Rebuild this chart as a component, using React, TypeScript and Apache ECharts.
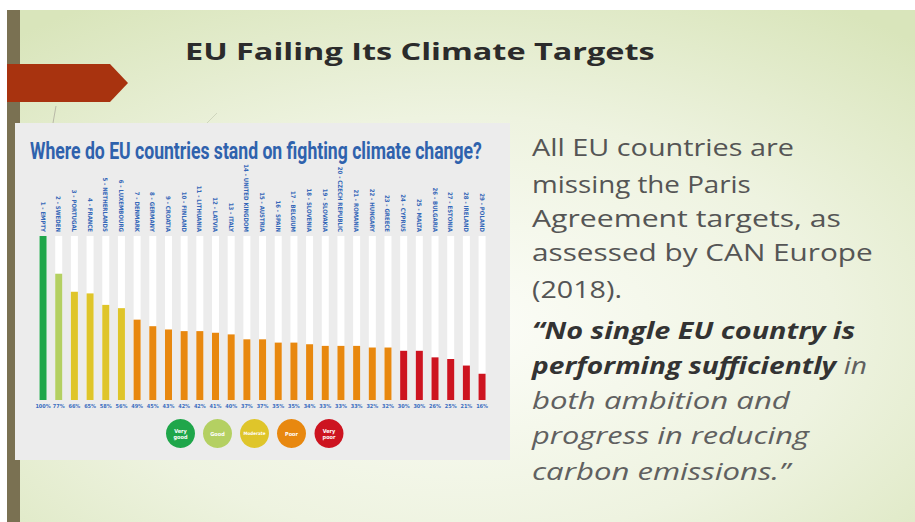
import React, { useEffect, useRef } from "react";
import * as echarts from "echarts";

const countries = [
  "1 - EMPTY", "2 - SWEDEN", "3 - PORTUGAL", "4 - FRANCE", "5 - NETHERLANDS",
  "6 - LUXEMBOURG", "7 - DENMARK", "8 - GERMANY", "9 - CROATIA", "10 - FINLAND",
  "11 - LITHUANIA", "12 - LATVIA", "13 - ITALY", "14 - UNITED KINGDOM", "15 - AUSTRIA",
  "16 - SPAIN", "17 - BELGIUM", "18 - SLOVENIA", "19 - SLOVAKIA", "20 - CZECH REPUBLIC",
  "21 - ROMANIA", "22 - HUNGARY", "23 - GREECE", "24 - CYPRUS", "25 - MALTA",
  "26 - BULGARIA", "27 - ESTONIA", "28 - IRELAND", "29 - POLAND",
];
const scores = [
  100, 77, 66, 65, 58, 56, 49, 45, 43, 42, 42, 41, 40, 37, 37,
  35, 35, 34, 33, 33, 33, 32, 32, 30, 30, 26, 25, 21, 16,
];
const ratingIndex = [
  0, 1, 2, 2, 2, 2, 3, 3, 3, 3, 3, 3, 3, 3, 3,
  3, 3, 3, 3, 3, 3, 3, 3, 4, 4, 4, 4, 4, 4,
];
const ratingLabels = ["Very\ngood", "Good", "Moderate", "Poor", "Very\npoor"];
const ratingColors = ["#1fa64a", "#b4d062", "#dfc52a", "#e8880f", "#cd1420"];

const chartTitle = "Where do EU countries stand on fighting climate change?";
const slideTitle = "EU Failing Its Climate Targets";
const bodyLines = [
  "All EU countries are",
  "missing the Paris",
  "Agreement targets, as",
  "assessed by CAN Europe",
  "(2018).",
];
const quoteBold1 = "\u201CNo single EU country is";
const quoteBold2 = "performing sufficiently";
const quoteTail2 = " in";
const quoteLines = ["both ambition and", "progress in reducing", "carbon emissions.\u201D"];

function measure(text: string, font: string): number {
  const c = document.createElement("canvas").getContext("2d");
  if (!c) return text.length * 10;
  c.font = font;
  return c.measureText(text).width;
}

const BODY_FONT = '"Open Sans", "DejaVu Sans", sans-serif';

export default function App() {
  const ref = useRef<HTMLDivElement>(null);
  useEffect(() => {
    if (!ref.current) return;
    const chart = echarts.init(ref.current, null, { renderer: "svg" });

    const fitText = (
      text: string, x: number, y: number, targetW: number, size: number,
      family: string, weight: string, style: string, color: string, z = 5
    ) => {
      const w = measure(text, `${style} ${weight} ${size}px ${family}`);
      const s = targetW / w;
      return {
        type: "text", x, y, scaleX: s, z,
        style: {
          text, fill: color, fontSize: size, fontFamily: family, fontWeight: weight,
          fontStyle: style, align: "left", verticalAlign: "middle",
        },
      };
    };

    const bodyTargets = [262, 219, 309, 341, 90];
    const bodyY = [147, 183.5, 218, 252, 288.5];
    const graphics: any[] = [];

    // slide background
    graphics.push({
      type: "rect", z: -10, shape: { x: 7, y: 10, width: 908, height: 512 },
      style: {
        fill: new echarts.graphic.RadialGradient(0.5, 0.62, 0.75, [
          { offset: 0, color: "#fcfdf8" },
          { offset: 0.55, color: "#eef3e0" },
          { offset: 1, color: "#d9e5bb" },
        ]),
      },
    });
    graphics.push({
      type: "rect", z: -9, shape: { x: 7, y: 10, width: 13, height: 512 },
      style: { fill: "#7a7152" },
    });
    graphics.push({
      type: "polygon", z: -8,
      shape: { points: [[7, 64], [110, 64], [128, 83], [110, 102], [7, 102]] },
      style: { fill: "#a8330f" },
    });
    graphics.push({
      type: "line", z: -8, shape: { x1: 56, y1: 106, x2: 53, y2: 123 },
      style: { stroke: "#b9b9a8", lineWidth: 1 },
    });
    graphics.push({
      type: "line", z: -8, shape: { x1: 217, y1: 113, x2: 207, y2: 123 },
      style: { stroke: "#cfd6bd", lineWidth: 1 },
    });
    // chart panel
    graphics.push({
      type: "rect", z: -7, shape: { x: 15, y: 123, width: 495, height: 337 },
      style: { fill: "#ececec" },
    });

    // titles
    graphics.push(fitText(slideTitle, 185, 50.5, 470, 24, BODY_FONT, "bold", "normal", "#2b2b2b"));
    graphics.push(fitText(chartTitle, 30, 151, 452, 23, "Roboto, sans-serif", "bold", "normal", "#2f62ad"));

    // body text
    bodyLines.forEach((t, i) => {
      graphics.push(fitText(t, 532, bodyY[i], bodyTargets[i], 24, BODY_FONT, "normal", "normal", "#555555"));
    });
    graphics.push(fitText(quoteBold1, 532, 330, 323, 24, BODY_FONT, "bold", "italic", "#333333"));
    {
      const f1 = `italic bold 24px ${BODY_FONT}`;
      const f2 = `italic normal 24px ${BODY_FONT}`;
      const w1 = measure(quoteBold2, f1);
      const w2 = measure(quoteTail2, f2);
      const s = 335 / (w1 + w2);
      graphics.push({
        type: "text", x: 532, y: 365, scaleX: s, z: 5,
        style: { text: quoteBold2, fill: "#333333", fontSize: 24, fontFamily: BODY_FONT, fontWeight: "bold", fontStyle: "italic", verticalAlign: "middle" },
      });
      graphics.push({
        type: "text", x: 532 + w1 * s, y: 365, scaleX: s, z: 5,
        style: { text: quoteTail2, fill: "#606060", fontSize: 24, fontFamily: BODY_FONT, fontWeight: "normal", fontStyle: "italic", verticalAlign: "middle" },
      });
    }
    const quoteTargets = [258, 277, 258];
    const quoteY = [400, 435, 470];
    quoteLines.forEach((t, i) => {
      graphics.push(fitText(t, 532, quoteY[i], quoteTargets[i], 24, BODY_FONT, "normal", "italic", "#606060"));
    });

    // rating legend
    const legendX = [180.5, 217.5, 254.5, 291.5, 329];
    ratingLabels.forEach((lab, i) => {
      graphics.push({
        type: "circle", z: 3, shape: { cx: legendX[i], cy: 433.5, r: 14.5 },
        style: { fill: ratingColors[i] },
      });
      graphics.push({
        type: "text", z: 4, x: legendX[i], y: 433.5,
        style: {
          text: lab, fill: "#ffffff", fontSize: lab.length > 6 && !lab.includes("\n") ? 4.5 : 5.5,
          fontFamily: '"DejaVu Sans Condensed", Roboto, sans-serif', fontWeight: "bold",
          align: "center", verticalAlign: "middle", lineHeight: 6,
        },
      });
    });

    const option: any = {
      animation: false,
      grid: { left: 35.2, width: 454.7, top: 236, bottom: 122, containLabel: false },
      xAxis: [
        {
          type: "category",
          data: scores.map((v) => v + "%"),
          position: "bottom",
          axisLine: { show: false },
          axisTick: { show: false },
          axisLabel: {
            interval: 0, margin: 3, color: "#3a6cc0", fontSize: 5.5,
            fontFamily: '"DejaVu Sans Condensed", Roboto, sans-serif', fontWeight: "bold",
          },
        },
        {
          type: "category",
          data: countries,
          position: "top",
          axisLine: { show: false },
          axisTick: { show: false },
          axisLabel: {
            interval: 0, rotate: 90, margin: 4, color: "#3567b8", fontSize: 6,
            fontFamily: '"DejaVu Sans Condensed", Roboto, sans-serif', fontWeight: "bold",
          },
        },
      ],
      yAxis: { type: "value", min: 0, max: 100, show: false },
      series: [
        {
          type: "bar",
          xAxisIndex: 0,
          barWidth: 7,
          showBackground: true,
          backgroundStyle: { color: "#ffffff" },
          data: scores.map((v, i) => ({ value: v, itemStyle: { color: ratingColors[ratingIndex[i]] } })),
        },
      ],
      graphic: { elements: graphics },
    };
    chart.setOption(option);
    return () => chart.dispose();
  }, []);
  return <div ref={ref} style={{ position: "fixed", left: 0, top: 0, width: 915, height: 522, background: "#ffffff" }} />;
}
